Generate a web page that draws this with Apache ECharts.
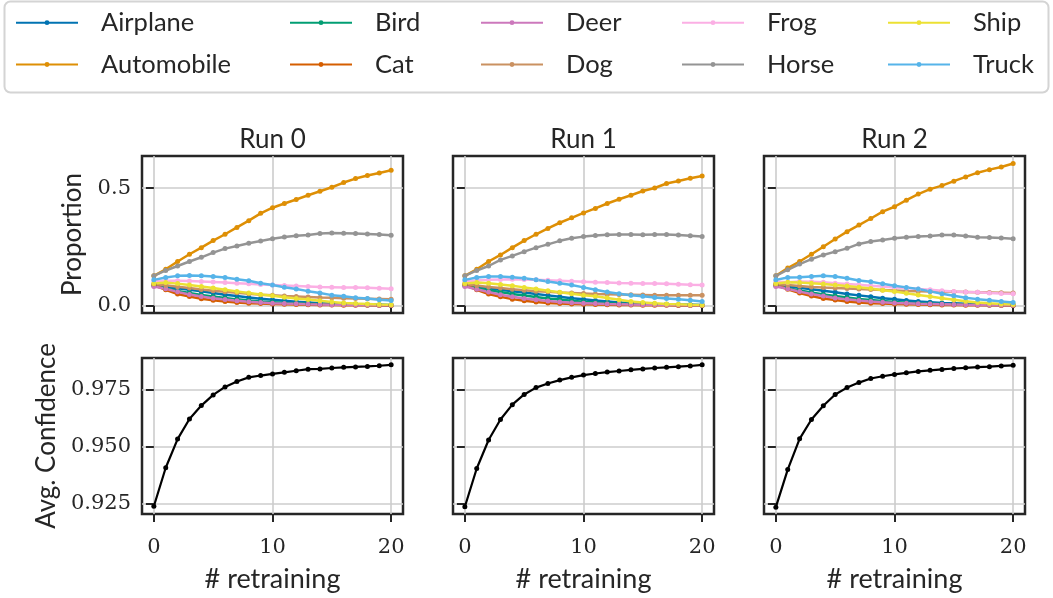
<!DOCTYPE html>
<html><head><meta charset="utf-8">
<script src="https://cdn.jsdelivr.net/npm/echarts@6/dist/echarts.min.js"></script>
<style>html,body{margin:0;padding:0;background:#fff}#c{width:1053px;height:598px}</style>
</head><body><div id="c"></div><script>
// ---- data ----
const classes = ['Airplane','Automobile','Bird','Cat','Deer','Dog','Frog','Horse','Ship','Truck'];
const colors  = ['#0173b2','#de8f05','#029e73','#d55e00','#cc78bc','#ca9161','#fbafe4','#949494','#ece133','#56b4e9'];
const runs = ['Run 0','Run 1','Run 2'];
const retraining = [0,1,2,3,4,5,6,7,8,9,10,11,12,13,14,15,16,17,18,19,20];
const xTicks = [0,10,20];
const propTicks = [0,0.5];
const confTicks = [0.925,0.95,0.975];

// proportion per class: [run0, run1, run2]
const airplane = [
 [0.090,0.080,0.074,0.068,0.061,0.054,0.047,0.041,0.035,0.030,0.025,0.021,0.017,0.014,0.011,0.009,0.008,0.006,0.005,0.004,0.003],
 [0.090,0.081,0.074,0.068,0.062,0.056,0.050,0.044,0.038,0.032,0.027,0.022,0.018,0.014,0.011,0.009,0.007,0.006,0.005,0.004,0.003],
 [0.090,0.082,0.076,0.070,0.064,0.057,0.050,0.044,0.038,0.032,0.027,0.022,0.018,0.015,0.012,0.010,0.008,0.006,0.005,0.004,0.003]];
const automobile = [
 [0.127,0.155,0.188,0.219,0.247,0.277,0.304,0.333,0.362,0.393,0.417,0.435,0.452,0.470,0.487,0.504,0.524,0.541,0.554,0.565,0.576],
 [0.127,0.155,0.188,0.216,0.247,0.277,0.304,0.329,0.353,0.374,0.395,0.414,0.435,0.453,0.470,0.488,0.501,0.520,0.531,0.542,0.552],
 [0.127,0.160,0.188,0.219,0.251,0.284,0.315,0.343,0.371,0.400,0.421,0.449,0.475,0.496,0.511,0.530,0.548,0.566,0.579,0.590,0.605]];
const bird = [
 [0.085,0.073,0.063,0.054,0.046,0.039,0.033,0.027,0.022,0.018,0.015,0.012,0.010,0.008,0.007,0.006,0.005,0.004,0.003,0.003,0.002],
 [0.085,0.075,0.066,0.058,0.050,0.043,0.037,0.031,0.026,0.021,0.017,0.014,0.011,0.009,0.007,0.006,0.005,0.004,0.003,0.003,0.002],
 [0.085,0.074,0.065,0.056,0.048,0.041,0.035,0.029,0.024,0.020,0.016,0.013,0.011,0.009,0.007,0.006,0.005,0.004,0.003,0.003,0.002]];
const cat = [
 [0.088,0.068,0.050,0.039,0.030,0.023,0.018,0.014,0.011,0.009,0.007,0.006,0.005,0.004,0.003,0.003,0.002,0.002,0.002,0.001,0.001],
 [0.088,0.068,0.050,0.038,0.028,0.021,0.016,0.012,0.009,0.007,0.006,0.005,0.004,0.003,0.003,0.002,0.002,0.002,0.001,0.001,0.001],
 [0.088,0.070,0.054,0.041,0.031,0.024,0.018,0.014,0.011,0.009,0.007,0.006,0.005,0.004,0.003,0.003,0.002,0.002,0.002,0.001,0.001]];
const deer = [
 [0.082,0.072,0.059,0.048,0.039,0.032,0.026,0.021,0.017,0.014,0.011,0.009,0.008,0.006,0.005,0.004,0.004,0.003,0.003,0.002,0.002],
 [0.082,0.070,0.058,0.047,0.038,0.031,0.025,0.020,0.016,0.013,0.011,0.009,0.007,0.006,0.005,0.004,0.004,0.003,0.003,0.002,0.002],
 [0.082,0.072,0.060,0.050,0.041,0.033,0.027,0.022,0.018,0.015,0.012,0.010,0.008,0.007,0.006,0.005,0.004,0.003,0.003,0.002,0.002]];
const dog = [
 [0.092,0.087,0.081,0.075,0.069,0.064,0.059,0.055,0.051,0.047,0.044,0.041,0.039,0.037,0.035,0.034,0.032,0.031,0.030,0.029,0.028],
 [0.092,0.086,0.080,0.075,0.070,0.066,0.062,0.059,0.056,0.054,0.052,0.050,0.049,0.048,0.047,0.046,0.045,0.045,0.044,0.044,0.044],
 [0.092,0.088,0.084,0.080,0.077,0.075,0.073,0.071,0.069,0.067,0.065,0.063,0.062,0.061,0.060,0.059,0.058,0.057,0.056,0.055,0.054]];
const frog = [
 [0.103,0.106,0.106,0.105,0.103,0.101,0.099,0.096,0.093,0.090,0.088,0.086,0.084,0.082,0.080,0.079,0.078,0.077,0.076,0.074,0.072],
 [0.103,0.107,0.110,0.112,0.113,0.112,0.110,0.108,0.106,0.104,0.102,0.100,0.099,0.097,0.096,0.095,0.094,0.093,0.091,0.089,0.088],
 [0.103,0.100,0.103,0.102,0.100,0.096,0.092,0.089,0.085,0.082,0.078,0.075,0.071,0.068,0.064,0.061,0.058,0.057,0.054,0.052,0.051]];
const horse = [
 [0.127,0.150,0.169,0.188,0.206,0.226,0.243,0.254,0.266,0.275,0.285,0.292,0.298,0.301,0.307,0.309,0.308,0.307,0.305,0.303,0.300],
 [0.127,0.150,0.169,0.195,0.212,0.230,0.247,0.261,0.276,0.287,0.294,0.299,0.302,0.303,0.303,0.302,0.303,0.303,0.301,0.298,0.294],
 [0.127,0.153,0.177,0.198,0.216,0.230,0.244,0.263,0.273,0.280,0.287,0.291,0.294,0.297,0.301,0.301,0.297,0.291,0.290,0.288,0.285]];
const ship = [
 [0.095,0.099,0.094,0.088,0.082,0.075,0.068,0.061,0.054,0.048,0.042,0.036,0.031,0.026,0.021,0.016,0.012,0.009,0.007,0.005,0.004],
 [0.095,0.099,0.096,0.090,0.085,0.078,0.071,0.064,0.057,0.051,0.045,0.040,0.033,0.025,0.018,0.014,0.010,0.007,0.006,0.004,0.003],
 [0.095,0.100,0.099,0.096,0.092,0.088,0.084,0.079,0.073,0.066,0.060,0.053,0.046,0.039,0.032,0.025,0.019,0.014,0.010,0.007,0.005]];
const truck = [
 [0.110,0.120,0.127,0.129,0.127,0.124,0.120,0.113,0.106,0.096,0.088,0.079,0.071,0.062,0.054,0.045,0.040,0.034,0.031,0.025,0.022],
 [0.110,0.120,0.124,0.124,0.121,0.117,0.110,0.103,0.096,0.088,0.078,0.068,0.058,0.051,0.045,0.040,0.035,0.031,0.027,0.023,0.018],
 [0.110,0.120,0.121,0.124,0.127,0.124,0.117,0.107,0.102,0.093,0.085,0.078,0.071,0.061,0.051,0.042,0.034,0.028,0.023,0.018,0.014]];
// average confidence per run
const confidence = [
 [0.9239,0.9408,0.9534,0.9622,0.9681,0.9728,0.9763,0.9787,0.9805,0.9813,0.9820,0.9827,0.9834,0.9841,0.9842,0.9846,0.9849,0.9851,0.9853,0.9856,0.9860],
 [0.9237,0.9405,0.9530,0.9620,0.9685,0.9730,0.9760,0.9778,0.9793,0.9805,0.9815,0.9822,0.9828,0.9833,0.9838,0.9842,0.9846,0.9849,0.9852,0.9855,0.9860],
 [0.9235,0.9400,0.9535,0.9620,0.9680,0.9730,0.9760,0.9782,0.9800,0.9810,0.9818,0.9825,0.9831,0.9836,0.9840,0.9844,0.9847,0.9850,0.9852,0.9855,0.9858]];
const proportions = [airplane,automobile,bird,cat,deer,dog,frog,horse,ship,truck];

// ---- layout ----
const DARK = '#262626';
const SANS = 'Lato';
const SERIF = "'DejaVu Serif', 'Liberation Serif', serif";
const gridLefts = [142,453,764];
const gridW = 261;
const grids = [];
for (let row=0; row<2; row++) for (let c=0; c<3; c++) {
  grids.push({left:gridLefts[c], width:gridW, top: row===0?156:358, height: row===0?157:156,
    show:true, borderColor:DARK, borderWidth:2.5, backgroundColor:'transparent'});
}
const xAxes = [], yAxes = [];
for (let i=0;i<6;i++){
  const row = Math.floor(i/3), c = i%3;
  xAxes.push({gridIndex:i, type:'value', min:-1, max:21,
    axisLine:{show:false},
    axisTick:{show:true, customValues:xTicks, length:8, lineStyle:{color:DARK,width:2}},
    axisLabel:{show:row===1, customValues:xTicks, fontFamily:SERIF, fontSize:21, color:DARK, margin:23},
    splitLine:{show:true, lineStyle:{color:'#cccccc', width:1.6}},
    name: row===1 ? '# retraining' : '', nameLocation:'middle', nameGap:52,
    nameTextStyle:{fontFamily:SANS, fontSize:27, color:DARK}
  });
  const ticks = row===0 ? propTicks : confTicks;
  yAxes.push({gridIndex:i, type:'value',
    min: row===0 ? -0.031 : 0.9205, max: row===0 ? 0.637 : 0.989,
    axisLine:{show:false},
    axisTick:{show:true, customValues:ticks, length:8, lineStyle:{color:DARK,width:2}},
    axisLabel:{show:c===0, customValues:ticks, fontFamily:SERIF, fontSize:21, color:DARK, margin:11,
      formatter: v => row===0 ? v.toFixed(1) : v.toFixed(3)},
    splitLine:{show:true, lineStyle:{color:'#cccccc', width:1.6}},
    name: c===0 ? (row===0 ? 'Proportion' : 'Avg. Confidence') : '',
    nameLocation:'middle', nameRotate:90, nameGap: row===0 ? 56 : 82,
    nameTextStyle:{fontFamily:SANS, fontSize:26, color:DARK}
  });
}
const series = [];
for (let r=0;r<3;r++){
  classes.forEach((name,k)=>{
    series.push({type:'line', name, xAxisIndex:r, yAxisIndex:r,
      data: retraining.map((x,i)=>[x, proportions[k][r][i]]),
      color: colors[k], symbol:'circle', symbolSize:5, showSymbol:true,
      lineStyle:{width:2.5, color:colors[k]}, itemStyle:{color:colors[k]}, animation:false});
  });
  series.push({type:'line', name:'conf'+r, xAxisIndex:3+r, yAxisIndex:3+r,
    data: retraining.map((x,i)=>[x, confidence[r][i]]),
    symbol:'circle', symbolSize:5, lineStyle:{width:2.2, color:'#000'}, itemStyle:{color:'#000'}, animation:false});
}
const legendLineX = [15,289,480,681,887];
const legendRowC = [22.7,64.5];
const legends = classes.map((name,k)=>{
  const col = Math.floor(k/2), row = k%2;
  return {data:[name], left:legendLineX[col], top:legendRowC[row]-15, padding:0,
    itemWidth:62, itemHeight:6, selectedMode:false,
    textStyle:{fontFamily:SANS, fontSize:25.5, color:DARK, lineHeight:30, padding:[0,0,0,18]}};
});
const graphics = [
  {type:'rect', shape:{x:4.5,y:1.5,width:1044,height:91,r:6}, style:{fill:'none', stroke:'#d4d4d4', lineWidth:2}, z:-1}
];
runs.forEach((t,c)=>{
  graphics.push({type:'text', x:gridLefts[c]+gridW/2, y:140,
    style:{text:t, align:'center', verticalAlign:'middle', font:'26px '+SANS, fill:DARK}});
});
const chart = echarts.init(document.getElementById('c'), null, {renderer:'canvas'});
chart.setOption({animation:false, grid:grids, xAxis:xAxes, yAxis:yAxes, series, legend:legends, graphic:graphics});
</script></body></html>
